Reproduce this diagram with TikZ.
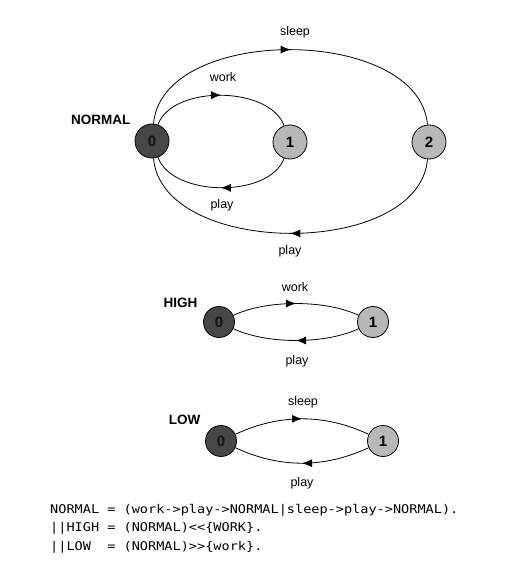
\documentclass[tikz,border=0pt]{standalone}
\usepackage{fontspec}
\setmainfont{Liberation Sans}
\newfontfamily\codefont[FakeStretch=1.13]{DejaVu Sans Mono}
\usetikzlibrary{arrows.meta,decorations.markings}

\begin{document}
\begin{tikzpicture}[x=1pt,y=1pt,
    darkstate/.style={circle,draw,line width=0.8pt,fill=black!72,text=black!92,inner sep=0pt,font=\bfseries\fontsize{15}{15}\selectfont},
    lightstate/.style={circle,draw,line width=0.8pt,fill=black!28,inner sep=0pt,font=\bfseries\fontsize{15}{15}\selectfont},
    trans/.style={line width=0.8pt,postaction={decorate},
      decoration={markings,mark=at position 0.5 with {\arrow{Latex[length=10pt,width=8pt]}}}},
    lbl/.style={font=\fontsize{12.5}{12.5}\selectfont},
    procname/.style={anchor=east,font=\bfseries\fontsize{13.5}{13.5}\selectfont},
    codeline/.style={anchor=west,inner sep=0pt,font=\codefont\fontsize{12}{12}\selectfont}]
  \useasboundingbox (0,0) rectangle (515,-580);

  % NORMAL
  \node[procname] (normal) at (134,-120) {NORMAL};
  \node[darkstate,minimum size=34pt] (n0) at (152,-141) {0};
  \node[lightstate,minimum size=34pt] (n1) at (290,-142) {1};
  \node[lightstate,minimum size=34pt] (n2) at (429,-142) {2};
  \draw[trans] (n0) to[out=85,in=95,looseness=0.93] (n2);
  \draw[trans] (n0) to[out=70,in=110,looseness=0.86] (n1);
  \draw[trans] (n1) to[out=-110,in=-70,looseness=0.86] (n0);
  \draw[trans] (n2) to[out=-95,in=-85,looseness=0.93] (n0);
  \node[lbl] (sleepN) at (295,-32) {sleep};
  \node[lbl] (workN) at (223,-77) {work};
  \node[lbl] (playNa) at (222,-205) {play};
  \node[lbl] (playNb) at (290,-251) {play};

  % HIGH
  \node[procname] (high) at (201,-303) {HIGH};
  \node[darkstate,minimum size=31pt] (h0) at (219,-322) {0};
  \node[lightstate,minimum size=31pt] (h1) at (373,-322) {1};
  \draw[trans] (h0) to[out=25,in=155,looseness=0.76] (h1);
  \draw[trans] (h1) to[out=-155,in=-25,looseness=0.76] (h0);
  \node[lbl] (workH) at (295,-287) {work};
  \node[lbl] (playH) at (297,-361) {play};

  % LOW
  \node[procname] (low) at (204,-420) {LOW};
  \node[darkstate,minimum size=31pt] (l0) at (221,-441) {0};
  \node[lightstate,minimum size=31pt] (l1) at (383,-441) {1};
  \draw[trans] (l0) to[out=25,in=155,looseness=0.94] (l1);
  \draw[trans] (l1) to[out=-155,in=-25,looseness=0.94] (l0);
  \node[lbl] (sleepL) at (303,-402) {sleep};
  \node[lbl] (playL) at (302,-483) {play};

  % FSP text
  \node[codeline] (line1) at (50,-510) {NORMAL = (work->play->NORMAL|sleep->play->NORMAL).};
  \node[codeline] (line2) at (50,-528) {||HIGH = (NORMAL)<<\{WORK\}.};
  \node[codeline] (line3) at (50,-547) {||LOW~~= (NORMAL)>>\{work\}.};
\end{tikzpicture}
\end{document}
